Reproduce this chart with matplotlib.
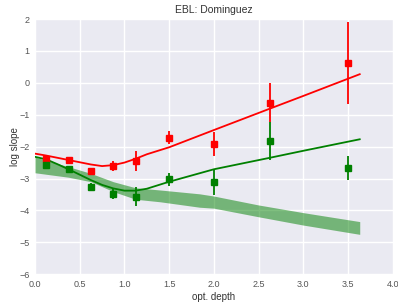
import matplotlib
matplotlib.use("Agg")
import matplotlib.pyplot as plt
import numpy as np

# data points
x_pts = [0.125, 0.375, 0.625, 0.875, 1.125, 1.5, 2.0, 2.625, 3.5]
red_y = [-2.39, -2.42, -2.77, -2.60, -2.45, -1.72, -1.92, -0.62, 0.63]
red_err = [0.10, 0.08, 0.10, 0.16, 0.30, 0.21, 0.38, 0.60, 1.28]
green_y = [-2.58, -2.71, -3.26, -3.49, -3.57, -3.03, -3.12, -1.82, -2.68]
green_err = [0.12, 0.08, 0.13, 0.16, 0.29, 0.21, 0.41, 0.60, 0.38]

# fitted curves
curve_x = [0.0, 0.125, 0.25, 0.375, 0.5, 0.625, 0.75, 0.875, 1.0, 1.125, 1.25, 1.5, 2.0, 2.625, 3.0, 3.63]
red_curve = [-2.22, -2.28, -2.35, -2.42, -2.49, -2.56, -2.61, -2.58, -2.50, -2.38, -2.24, -2.02, -1.48, -0.81, -0.41, 0.27]
green_curve = [-2.32, -2.40, -2.55, -2.71, -2.88, -3.05, -3.20, -3.31, -3.38, -3.38, -3.32, -3.10, -2.71, -2.35, -2.13, -1.77]

# model band
band_x = [0.0, 0.375, 0.625, 0.875, 1.125, 1.4, 1.84, 2.0, 2.5, 3.0, 3.63]
band_hi = [-2.33, -2.63, -2.84, -3.10, -3.29, -3.36, -3.48, -3.55, -3.83, -4.07, -4.35]
band_lo = [-2.82, -2.96, -3.10, -3.41, -3.65, -3.73, -3.90, -3.93, -4.20, -4.46, -4.75]

xticks = [0.0, 0.5, 1.0, 1.5, 2.0, 2.5, 3.0, 3.5, 4.0]
yticks = [-6, -5, -4, -3, -2, -1, 0, 1, 2]

plt.rcParams['font.family'] = ['Liberation Sans', 'DejaVu Sans']
fig = plt.figure(figsize=(3.98, 3.02), dpi=100)
ax = fig.add_axes([0.088, 0.092, 0.899, 0.845])
ax.set_facecolor('#EAEAF2')
for s in ax.spines.values():
    s.set_visible(False)
ax.grid(True, color='white', linewidth=1.0)
ax.set_axisbelow(True)

ax.fill_between(band_x, band_lo, band_hi, color='green', alpha=0.5, linewidth=0)
ax.plot(curve_x, red_curve, color='red', lw=1.3)
ax.plot(curve_x, green_curve, color='green', lw=1.3)
ax.errorbar(x_pts, red_y, yerr=red_err, fmt='s', color='red', ms=5, elinewidth=1.3, capsize=0)
ax.errorbar(x_pts, green_y, yerr=green_err, fmt='s', color='green', ms=5, elinewidth=1.3, capsize=0)

ax.set_xlim(0, 4)
ax.set_ylim(-6, 2)
ax.set_xticks(xticks)
ax.set_yticks(yticks)
ax.set_xticklabels([f"{v:.1f}" for v in xticks])
ax.set_yticklabels(["\u2212" + str(abs(v)) if v < 0 else str(v) for v in yticks])
ax.tick_params(length=0, labelsize=6.5, labelcolor='#555555', pad=4)
ax.set_title("EBL: Dominguez", fontsize=7.5, color='#333333', pad=4)
ax.set_xlabel("opt. depth", fontsize=7, color='#333333', labelpad=2)
ax.set_ylabel("log slope", fontsize=7, color='#333333', labelpad=-1)

fig.savefig("out.png", dpi=100)
